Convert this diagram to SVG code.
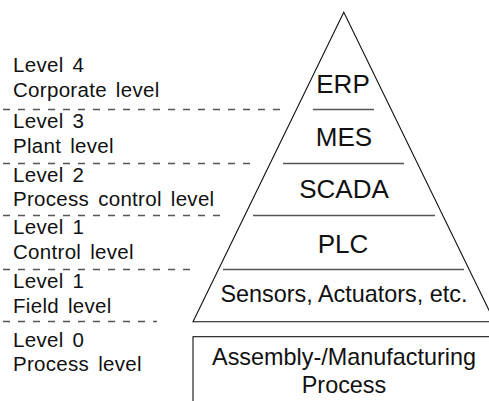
<svg xmlns="http://www.w3.org/2000/svg" width="489" height="401" viewBox="0 0 489 401">
  <style>
    .lbl { font-family: "Liberation Sans", Arial, Helvetica, sans-serif; font-size: 20.5px; fill: #111; letter-spacing: 0.3px; word-spacing: 3px; }
    .tier { font-family: "Liberation Sans", Arial, Helvetica, sans-serif; font-size: 23.4px; fill: #111; text-anchor: middle; }
    .big { font-size: 26px; }
    .dash { stroke: #555; stroke-width: 1.3; stroke-dasharray: 7 8; fill: none; }
    .sep { stroke: #555; stroke-width: 1.5; fill: none; }
    .edge { stroke: #111; stroke-width: 1.1; fill: none; }
  </style>
  <rect width="489" height="401" fill="#fff"/>

  <!-- level boundaries -->
  <g id="connectors">
    <line class="dash" x1="3" y1="109.5" x2="286" y2="109.5"/>
    <line class="dash" x1="3" y1="163.5" x2="255" y2="163.5"/>
    <line class="dash" x1="3" y1="215.5" x2="220" y2="215.5"/>
    <line class="dash" x1="3" y1="269.5" x2="190" y2="269.5"/>
    <line class="dash" x1="3" y1="321.5" x2="157" y2="321.5"/>
  </g>

  <!-- level captions -->
  <g id="level4">
    <text class="lbl" x="13" y="72">Level 4</text>
    <text class="lbl" x="13" y="97">Corporate level</text>
  </g>
  <g id="level3">
    <text class="lbl" x="13" y="128">Level 3</text>
    <text class="lbl" x="13" y="152.5">Plant level</text>
  </g>
  <g id="level2">
    <text class="lbl" x="13" y="181.5">Level 2</text>
    <text class="lbl" x="13" y="206">Process control level</text>
  </g>
  <g id="level1-control">
    <text class="lbl" x="13" y="234">Level 1</text>
    <text class="lbl" x="13" y="258.5">Control level</text>
  </g>
  <g id="level1-field">
    <text class="lbl" x="13" y="288">Level 1</text>
    <text class="lbl" x="13" y="312.5">Field level</text>
  </g>
  <g id="level0">
    <text class="lbl" x="13" y="346.5">Level 0</text>
    <text class="lbl" x="13" y="370.5">Process level</text>
  </g>

  <!-- automation pyramid -->
  <g id="pyramid">
    <polygon class="edge" points="343.8,12.3 193,321.7 494.6,321.7"/>
    <line class="sep" x1="313" y1="109.5" x2="374" y2="109.5"/>
    <line class="sep" x1="283" y1="163.5" x2="404" y2="163.5"/>
    <line class="sep" x1="253" y1="215.5" x2="435" y2="215.5"/>
    <line class="sep" x1="223" y1="269.5" x2="464" y2="269.5"/>
  </g>
  <g id="erp"><text class="tier big" x="343" y="93">ERP</text></g>
  <g id="mes"><text class="tier big" x="344" y="145.5">MES</text></g>
  <g id="scada"><text class="tier big" x="344" y="198">SCADA</text></g>
  <g id="plc"><text class="tier big" x="343" y="252.5">PLC</text></g>
  <g id="field-devices"><text class="tier" x="344" y="301.5">Sensors, Actuators, etc.</text></g>

  <!-- physical process -->
  <g id="process">
    <rect class="edge" x="193" y="336.7" width="302" height="90"/>
    <text class="tier" x="344" y="365">Assembly-/Manufacturing</text>
    <text class="tier" x="344" y="393">Process</text>
  </g>
</svg>
